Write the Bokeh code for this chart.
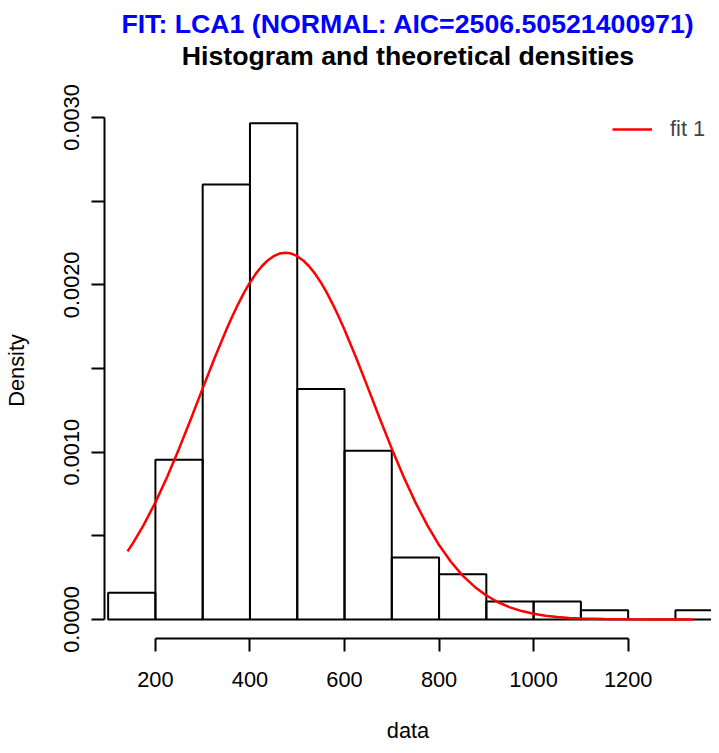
from bokeh.plotting import figure
from bokeh.models import FixedTicker, Title, Legend, LegendItem, Range1d
from bokeh.embed import file_html
from bokeh.resources import INLINE

# histogram (density per bin)
bin_left = [100, 200, 300, 400, 500, 600, 700, 800, 900, 1000, 1100, 1200, 1300]
bin_right = [200, 300, 400, 500, 600, 700, 800, 900, 1000, 1100, 1200, 1300, 1400]
density = [0.00016, 0.000955, 0.0026, 0.002966, 0.001377, 0.001008, 0.000371,
           0.00027, 0.000108, 0.000108, 0.0000557, 0.0, 0.0000557]

# fitted normal density
curve_x = [141, 150, 175, 200, 225, 250, 275, 300, 325, 350, 362.5, 375, 387.5,
           400, 412.5, 425, 437.5, 450, 462.5, 475, 487.5, 500, 512.5, 525, 537.5,
           550, 562.5, 575, 587.5, 600, 625, 650, 675, 700, 725, 750, 775, 800,
           825, 850, 875, 900, 925, 950, 975, 1000, 1025, 1050, 1075, 1100, 1150,
           1200, 1250, 1300, 1338]
curve_y = [0.000407, 0.000445, 0.000564, 0.000700, 0.000853, 0.001021, 0.001198,
           0.001381, 0.001561, 0.001731, 0.001811, 0.001885, 0.001953,
           0.002014, 0.002067, 0.002111, 0.002146, 0.002171, 0.002187,
           0.002192, 0.002187, 0.002171, 0.002146, 0.002111, 0.002067,
           0.002014, 0.001953, 0.001885, 0.001811, 0.001731, 0.001561,
           0.001381, 0.001198, 0.001021, 0.000853, 0.000700, 0.000564, 0.000445,
           0.000345, 0.000262, 0.000196, 0.0001435, 0.0001031, 0.0000727,
           0.0000503, 0.0000342, 0.0000228, 0.0000149, 0.0000096, 0.0000060,
           0.0000023, 0.0000008, 0.0000002, 0.0000001, 0.0]

x_ticks = [200, 400, 600, 800, 1000, 1200]
y_ticks = [0.0, 0.0005, 0.001, 0.0015, 0.002, 0.0025, 0.003]
y_labels = {0.0: "0.0000", 0.0005: "", 0.001: "0.0010", 0.0015: "",
            0.002: "0.0020", 0.0025: "", 0.003: "0.0030"}

title_main = "FIT: LCA1 (NORMAL: AIC=2506.50521400971)"
title_sub = "Histogram and theoretical densities"

FONT = "Liberation Sans"
FS = "21.8px"
TFS = "26.7px"

p = figure(width=711, height=745, output_backend="svg", toolbar_location=None,
           x_range=Range1d(92.3, 1376.3), y_range=Range1d(-0.0001135, 0.0030896),
           min_border_left=103, min_border_right=0, min_border_top=102,
           min_border_bottom=107)
p.grid.visible = False
p.outline_line_color = None
p.background_fill_color = "white"
p.border_fill_color = "white"

# outermost title
p.title.text = title_main
p.title.text_font = FONT
p.title.text_font_size = TFS
p.title.text_font_style = "bold"
p.title.text_color = "#0000FF"
p.title.align = "center"
p.title.standoff = 0

# spacer between frame and subtitle, then the subtitle
p.add_layout(Title(text=" ", text_font=FONT, text_font_size=TFS, standoff=0), "above")
p.add_layout(Title(text=title_sub, text_font=FONT, text_font_size=TFS,
                   text_font_style="bold", text_color="black", align="center",
                   standoff=0), "above")

p.quad(left=bin_left, right=bin_right, bottom=0, top=density,
       fill_color=None, line_color="black", line_width=2)
r = p.line(curve_x, curve_y, line_color="#FF0000", line_width=2.5)

for ax in (p.xaxis[0], p.yaxis[0]):
    ax.axis_line_width = 2
    ax.major_tick_line_width = 2
    ax.major_tick_out = 13
    ax.major_tick_in = 0
    ax.minor_tick_line_color = None
    ax.major_label_text_font = FONT
    ax.major_label_text_font_size = FS
    ax.major_label_text_color = "black"
    ax.axis_label_text_font = FONT
    ax.axis_label_text_font_size = FS
    ax.axis_label_text_font_style = "normal"
    ax.axis_label_text_color = "black"

p.xaxis.ticker = FixedTicker(ticks=x_ticks)
p.xaxis.bounds = (x_ticks[0], x_ticks[-1])
p.xaxis.axis_label = "data"
p.xaxis.major_label_standoff = 20
p.xaxis.axis_label_standoff = 28

p.yaxis.ticker = FixedTicker(ticks=y_ticks)
p.yaxis.bounds = (y_ticks[0], y_ticks[-1])
p.yaxis.major_label_overrides = y_labels
p.yaxis.major_label_orientation = "vertical"
p.yaxis.axis_label = "Density"
p.yaxis.major_label_standoff = 12
p.yaxis.axis_label_standoff = 33

legend = Legend(items=[LegendItem(label="fit 1", renderers=[r])],
                location=(508, 496), padding=0, margin=0, glyph_width=40,
                glyph_height=20, label_standoff=18, label_height=20,
                border_line_color=None, background_fill_alpha=0,
                label_text_font=FONT, label_text_font_size=FS)
p.add_layout(legend)

open("out.html", "w").write(file_html(p, INLINE))
